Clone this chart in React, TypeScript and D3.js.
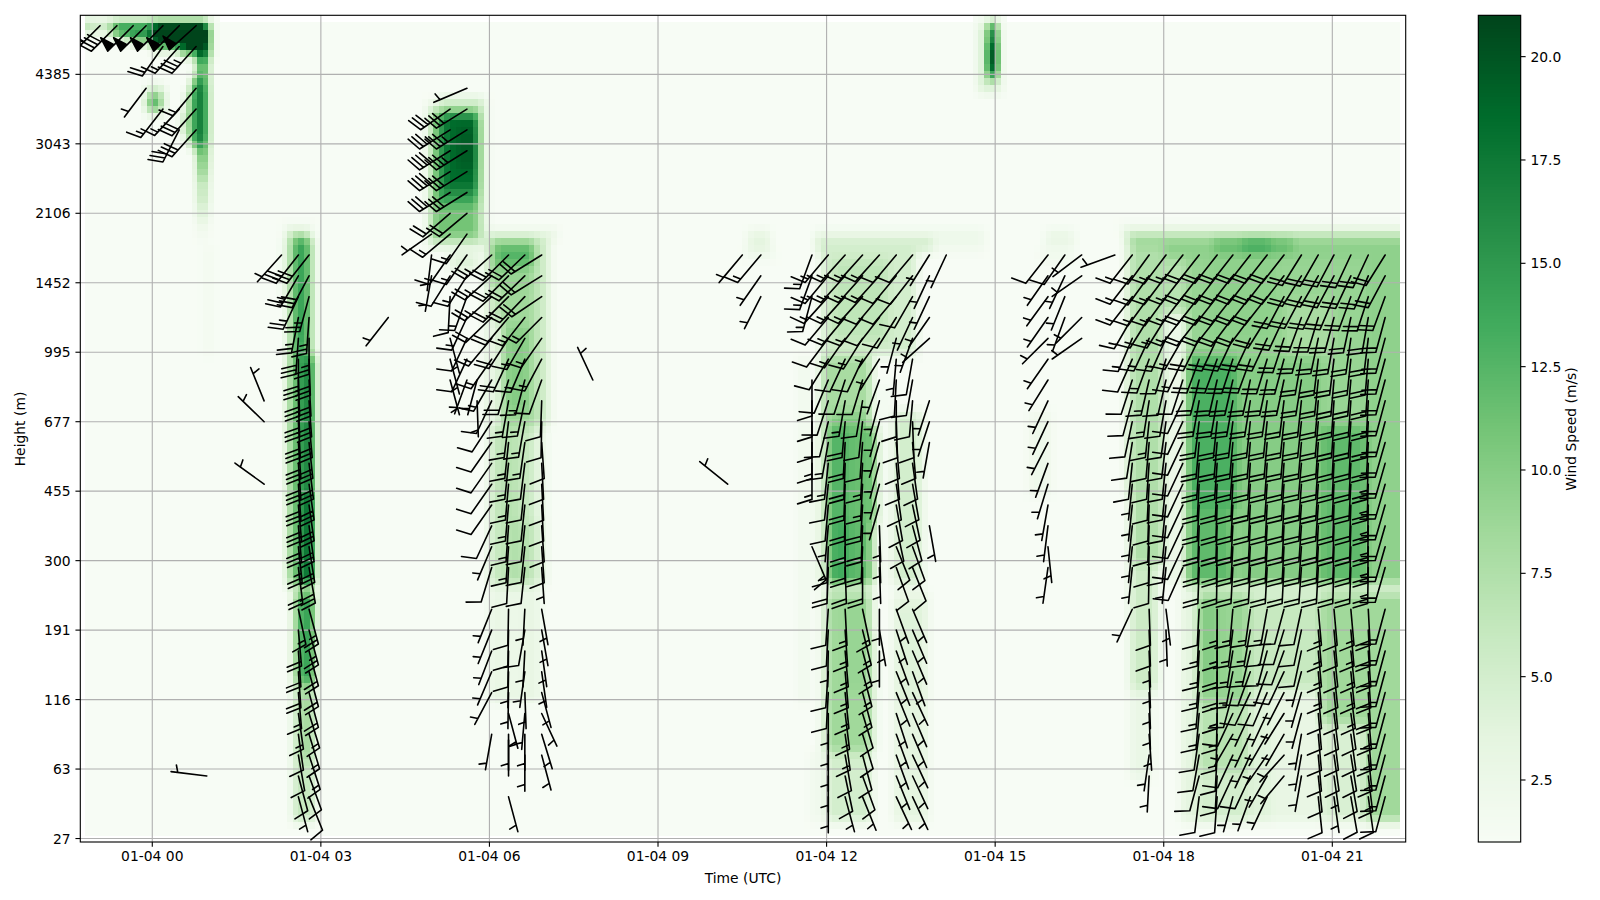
import React from "react";
import * as d3 from "d3";

// ---- axes ----
const timeTickHours = [0, 3, 6, 9, 12, 15, 18, 21];
const timeTickLabels = ["01-04 00", "01-04 03", "01-04 06", "01-04 09", "01-04 12", "01-04 15", "01-04 18", "01-04 21"];
const gateTicks = [0, 10, 20, 30, 40, 50, 60, 70, 80, 90, 100, 110];
const heightLabels = ["27", "63", "116", "191", "300", "455", "677", "995", "1452", "2106", "3043", "4385"];
const speedTicks = [2.5, 5, 7.5, 10, 12.5, 15, 17.5, 20];
const greens = ["#f7fcf5", "#e5f5e0", "#c7e9c0", "#a1d99b", "#74c476", "#41ab5d", "#238b45", "#006d2c", "#00441b"];

// ---- wind speed, m/s: [hour from, hour to, gate from, gate to, speed] ----
type P = [number, number, number, number, number];
const heatTopLeft: P[] = [
  [-1.2, -1.1, 116.5, 117.5, 12], [-1.1, -0.8, 116.5, 117.5, 9], [-0.8, -0.7, 116.5, 117.5, 11],
  [-0.7, 0, 116.5, 117.5, 19], [-0.7, 0, 115.5, 116.5, 14], [-0.4, 0, 114.5, 115.5, 12],
  [0, 1.05, 114.5, 117.5, 27], [0, 0.5, 113.5, 114.5, 10], [0.5, 1.05, 113.5, 114.5, 25], [0.5, 0.8, 112.5, 113.5, 7],
  [0.8, 1.05, 112.5, 113.5, 23], [0.6, 0.8, 111.5, 112.5, 3], [0.8, 1.05, 110, 112.5, 15], [1.05, 1.15, 112.5, 117.5, 4],
  [0.7, 1, 100, 110, 15], [0.8, 1.05, 101, 109, 17.5], [0.6, 0.7, 101, 108, 8], [0.5, 0.6, 102, 105, 5],
  [0.8, 1.05, 97.7, 100, 13], [0.8, 1.05, 95.8, 97.7, 11], [0.8, 1.05, 94.3, 95.8, 9], [0.8, 1.05, 91.9, 94.3, 7],
  [0.8, 1.05, 90, 91.9, 5], [0.8, 1.05, 88.6, 90, 3.5], [0.8, 1.05, 86.6, 88.6, 2], [0.9, 1.1, 70, 86, 1.6],
  [-0.1, 0.2, 104.5, 108.5, 5], [-0.1, 0.2, 105, 108, 9], [-0.05, 0.15, 105.5, 107, 16],
];
const heatJet3h: P[] = [
  [2.27, 2.95, 87.6, 88.6, 2], [2.45, 2.81, 86.6, 87.6, 7],
  [2.27, 2.36, 78, 86.6, 3], [2.36, 2.49, 70, 86.6, 7], [2.49, 2.81, 70, 86.6, 13], [2.58, 2.72, 72, 86.6, 15], [2.81, 2.95, 50, 86.6, 6],
  [2.45, 2.6, 36.8, 70, 10], [2.6, 2.85, 36.8, 70, 16], [2.85, 2.95, 50, 70, 8], [2.85, 2.95, 36.8, 50, 12], [2.7, 2.85, 37, 50, 18],
  [2.45, 2.9, 35.5, 36.8, 3], [2.54, 2.95, 23, 35.5, 9], [2.63, 2.85, 22, 35.5, 14], [2.54, 2.95, 2.7, 23, 6], [2.63, 2.85, 12, 23, 8],
];
const heatJet5h: P[] = [
  [4.9, 6, 84.7, 106.5, 2], [4.95, 5.95, 86, 105.6, 6], [5.05, 5.85, 87, 105, 11], [5.1, 5.85, 92, 104.6, 15],
  [5.2, 5.85, 94, 104.6, 18.5], [5.4, 5.85, 97, 103, 19.5], [5.1, 5.95, 105.6, 106.6, 7], [5.3, 5.85, 82, 85, 4],
];
const heatBlock6h: P[] = [
  [5.9, 7.15, 86.6, 87.6, 4], [5.95, 7.1, 60, 86.6, 3.5], [6, 6.99, 60, 86.6, 6], [6.05, 6.85, 80, 86.6, 9], [6.1, 6.8, 83, 85.8, 12.5],
  [6.24, 6.84, 60, 80, 8.5], [6.3, 6.75, 62, 74, 10], [6, 6.24, 60, 75, 3],
  [6, 6.84, 46, 60, 6], [6.2, 6.5, 46, 60, 7], [6.84, 7, 46, 60, 3], [6.04, 6.3, 37, 46, 6], [6.3, 6.5, 37, 46, 7.5], [6.5, 6.85, 37, 46, 7], [6.85, 7, 37, 46, 4],
  [6, 6.9, 35.5, 36.8, 2.5], [6, 6.9, 20, 35.5, 3], [6.2, 6.6, 22, 35, 2.5],
];
const heatBlock12h: P[] = [
  [11.5, 11.7, 20, 70, 2], [11.8, 14.8, 86.6, 87.6, 3], [13.9, 14.8, 84.5, 86.6, 2], [11.8, 13.9, 84.5, 86.6, 5],
  [11.9, 13.6, 70, 84.5, 5], [12.1, 13.1, 72, 84, 6.5], [11.9, 12.8, 60, 70, 8], [12.1, 12.7, 50, 62, 10],
  [12.77, 13.18, 36.8, 66, 1.5], [13.18, 13.7, 36.8, 62, 5], [11.8, 12.03, 37, 60, 3.5], [12.03, 12.9, 46, 60, 10.5], [12.03, 12.4, 46, 60, 12.5], [12.4, 12.77, 46, 60, 11.5],
  [12.03, 12.77, 36.8, 46, 12], [12.1, 12.4, 37, 46, 13.5], [12.77, 12.9, 37, 46, 4], [12.03, 12.77, 35.5, 36.8, 2],
  [11.9, 12.03, 12.3, 35.5, 4], [12.03, 12.77, 12.3, 35.5, 8.5], [12.3, 12.7, 22, 35, 9], [12.77, 12.95, 12.3, 30, 3],
  [12.03, 12.77, 2.7, 12.3, 5], [11.75, 12.03, 2.7, 12.3, 2], [13.18, 13.8, 2.7, 35.5, 3.5], [13.25, 13.7, 20, 34, 4],
];
const heatSpike15h: P[] = [
  [14.75, 15.1, 107.5, 108, 2], [14.75, 15.1, 108, 117.5, 5], [14.9, 15, 110, 117.5, 26], [14.9, 15, 111, 115, 34],
];
const heatPatches16h: P[] = [
  [10.6, 11, 84, 87.6, 3.5], [10.5, 11.1, 84, 85, 2], [15.9, 16.4, 86, 87.6, 3], [15.8, 16.4, 83, 86, 1.8], [15.6, 16.05, 50, 62, 2.2],
];
const heatBlock18h: P[] = [
  [17.2, 22.2, 87.6, 88.6, 2], [17.3, 22.2, 86.6, 87.6, 6.5], [17.45, 22.2, 84, 86.6, 9.5], [18.9, 20.3, 85, 86.6, 12], [19.4, 19.9, 85, 86.6, 14],
  [17.3, 17.45, 50, 86.6, 3.5], [17.45, 18, 40, 86, 7.5], [18, 18.4, 75.7, 84, 7], [18, 18.4, 36.8, 75.7, 2.5],
  [18.4, 22.2, 36.8, 84, 9], [18.8, 20, 72, 84, 9.5], [20.2, 21, 70, 78, 8],
  [18.4, 19.3, 48, 70, 13], [18.4, 19.2, 37, 48, 12], [19.3, 20.8, 37, 70, 10], [20.8, 21.6, 37, 60, 12], [21.6, 22.2, 37, 84, 9.5],
  [18.4, 22.2, 35.5, 36.8, 2], [18.3, 18.6, 2.7, 35.5, 3.5], [18.6, 19.48, 20, 35.5, 9], [18.6, 19, 22, 35, 10],
  [19.48, 20.78, 22, 35.5, 6], [19.9, 20.78, 2.7, 22, 3], [18.6, 19.48, 10, 20, 7], [18.6, 19.48, 2.7, 10, 5], [19.48, 19.9, 2.7, 22, 4],
  [20.78, 21.6, 17, 35.5, 8.5], [20.78, 21.6, 2.7, 17, 4.5], [21.6, 22.2, 2.7, 35.5, 8.5],
  [17.45, 17.95, 22, 40, 5.5], [17.45, 17.85, 9, 22, 2.8],
];
const heatBackground = 1.0;
const gridStartHour = -1.2;
const gridColumns = 234;
const gridRows = 118;

// ---- wind barbs: [hour, top row, knots/5 per row going down (a = 50 kt, . = none), bearing per row] ----
type B = [number, number, string, number[]];
const barbsTopLeft: B[] = [
  [-0.93, 39, "7", [225]], [-0.63, 39, "8", [225]], [-0.34, 39, "a", [225]],
  [-0.11, 39, "a..1", [225, 0, 0, 217]],
  [0.19, 39, "a4..3", [225, 215, 0, 0, 218]],
  [0.48, 39, "a3..36", [225, 222, 0, 0, 223, 207]],
  [0.78, 39, "a7.366", [228, 222, 0, 220, 222, 222]],
];
const barbsIsolated: B[] = [
  [0.97, 3, "1", [277]], [1.99, 21, "11..1", [338, 314, 0, 0, 306]], [4.2, 25, "1", [218]], [7.84, 22, "1", [335]],
  [10.24, 17, "1", [309]], [10.5, 28, "1", [220]], [10.83, 28, "311", [220, 215, 207]],
];
const barbsJet3h: B[] = [
  [2.3, 28, "1", [222]],
  [2.6, 28, "6555666666666654.3444332221", [218, 210, 205, 191, 184, 180, 178, 178, 177, 176, 176, 176, 175, 175, 174, 173, 0, 168, 175, 176, 176, 175, 172, 172, 170, 165, 165]],
  [2.79, 28, "6655566666666666.5544433322", [218, 208, 195, 184, 180, 178, 177, 176, 175, 174, 173, 172, 172, 172, 171, 170, 0, 165, 165, 165, 165, 165, 163, 163, 162, 160, 158]],
];
const barbsMorning: B[] = [
  [4.97, 29, "111", [235, 187, 190]],
  [5.3, 35, "6788643322.111", [235, 238, 238, 238, 238, 229, 230, 215, 212, 183, 0, 165, 165, 165]],
  [5.6, 36, "167766433333221", [247, 238, 238, 238, 238, 238, 230, 215, 215, 212, 200, 205, 205, 205, 200]],
  [5.78, 22, "11", [195, 178]],
  [6.04, 28, "5554333222222212.11111.1", [228, 228, 228, 226, 220, 215, 210, 205, 213, 215, 215, 215, 215, 205, 203, 197, 0, 202, 202, 201, 203, 208, 0, 190]],
  [6.34, 28, "4444444333333332.2221111011", [225, 225, 225, 220, 213, 205, 197, 190, 187, 186, 186, 185, 185, 184, 184, 183, 0, 181, 181, 181, 181, 181, 165, 180, 180, 0, 165]],
  [6.63, 28, "4443333333222222.12111111", [226, 226, 224, 218, 210, 203, 195, 192, 190, 188, 187, 186, 186, 186, 186, 186, 0, 183, 190, 183, 188, 178, 185, 180, 180]],
  [6.93, 28, "4443332222222221.11111111", [238, 238, 236, 225, 215, 208, 200, 182, 181, 176, 177, 177, 177, 176, 176, 176, 0, 170, 170, 172, 172, 165, 155, 163, 165]],
];
const barbsMidday: B[] = [
  [11.74, 28, "333...22233...3", [200, 200, 195, 0, 0, 0, 180, 180, 180, 180, 180, 0, 0, 0, 157]],
  [12.03, 28, "3332222223322134.2212211111", [220, 220, 222, 220, 217, 212, 203, 198, 194, 190, 186, 186, 185, 185, 182, 182, 0, 184, 183, 181, 184, 183, 180, 180, 180, 180, 180]],
  [12.33, 28, "3333322344444444.3333333221", [222, 222, 222, 220, 215, 205, 198, 190, 185, 183, 182, 182, 181, 180, 180, 178, 0, 177, 176, 175, 175, 174, 173, 172, 170, 168, 165]],
  [12.64, 28, "3333322222334444.3333322221", [222, 222, 222, 218, 212, 205, 197, 190, 186, 184, 183, 183, 183, 182, 182, 180, 0, 168, 166, 165, 165, 165, 163, 163, 165, 160, 158]],
  [12.94, 28, "3322111111111111.111", [222, 222, 220, 218, 215, 212, 200, 195, 195, 196, 195, 195, 196, 178, 178, 178, 0, 180, 170, 180]],
  [13.24, 28, "2222112222222222.1111111111", [220, 220, 220, 212, 195, 185, 183, 180, 178, 175, 175, 172, 170, 168, 158, 160, 0, 160, 162, 160, 158, 158, 162, 160, 160, 158, 155]],
  [13.53, 28, "2221122222222222.1111111111", [220, 218, 210, 205, 200, 190, 190, 185, 178, 175, 172, 170, 168, 165, 160, 158, 0, 157, 157, 157, 160, 155, 157, 157, 155, 155, 155]],
  [13.83, 28, "11111..111...1", [212, 205, 205, 215, 228, 0, 0, 198, 198, 190, 0, 0, 0, 170]],
  [14.13, 28, "1", [205]],
];
const barbsAfternoon: B[] = [
  [15.94, 28, "2111111111111111", [218, 215, 216, 215, 225, 215, 212, 205, 205, 207, 200, 197, 190, 187, 174, 188]],
  [16.24, 28, "2111", [215, 205, 202, 200]],
  [16.54, 28, "11.11", [233, 235, 0, 225, 235]],
  [17.13, 28, "1", [250]],
];
const barbsEvening: B[] = [
  [17.44, 28, "3333322222211111.1", [218, 218, 218, 210, 203, 204, 198, 195, 192, 189, 186, 186, 186, 186, 186, 186, 0, 205]],
  [17.74, 28, "3333333332222222.221111111", [216, 216, 216, 212, 205, 200, 193, 189, 186, 185, 184, 183, 182, 182, 181, 181, 0, 178, 178, 178, 178, 178, 178, 176, 188, 183]],
  [18.04, 28, "3333322222222221.11", [217, 217, 216, 212, 204, 197, 193, 190, 188, 187, 186, 186, 186, 186, 186, 186, 0, 173, 178]],
  [18.34, 28, "3333332222222222", [218, 218, 218, 218, 210, 205, 198, 205, 205, 205, 205, 205, 205, 205, 205, 204]],
  [18.63, 28, "4444444444444444.2333332222", [218, 218, 218, 218, 206, 200, 194, 190, 187, 185, 184, 183, 183, 182, 182, 182, 0, 183, 183, 183, 184, 185, 185, 188, 190, 195, 187]],
  [18.95, 28, "4444444444444444.3344333222", [218, 218, 218, 218, 205, 200, 193, 190, 186, 185, 184, 183, 182, 182, 181, 181, 0, 180, 180, 180, 180, 180, 181, 182, 183, 183, 184]],
  [19.23, 28, "4444444444444444.3333221221", [218, 218, 218, 217, 205, 198, 193, 190, 187, 185, 184, 183, 183, 183, 183, 183, 0, 185, 187, 189, 191, 195, 205, 210, 205, 205, 195]],
  [19.54, 28, "4444444444444444.3332211121", [218, 218, 218, 217, 205, 200, 192, 189, 186, 185, 184, 184, 183, 183, 183, 183, 0, 188, 190, 193, 200, 205, 205, 205, 205, 205, 200]],
  [19.84, 28, "4444444444444444.3222211111", [218, 218, 218, 212, 205, 197, 192, 188, 186, 185, 184, 184, 183, 183, 183, 183, 0, 190, 192, 195, 200, 203, 205, 210, 215, 210, 205]],
  [20.14, 28, "4444444444444444.222211111", [218, 218, 208, 205, 198, 195, 192, 187, 186, 185, 184, 184, 183, 183, 183, 183, 0, 195, 197, 200, 205, 207, 212, 210, 222, 220]],
  [20.45, 28, "4444444444444444.222111111", [212, 212, 208, 200, 195, 190, 189, 186, 186, 185, 185, 184, 184, 184, 184, 184, 0, 192, 192, 192, 195, 196, 195, 190, 190, 190]],
  [20.75, 28, "4444444444444444.3333222222", [210, 210, 205, 197, 192, 187, 186, 185, 185, 184, 184, 184, 184, 183, 183, 183, 0, 175, 175, 175, 175, 175, 175, 175, 175, 174, 174]],
  [21.03, 28, "4444444444444444.2222222211", [208, 208, 203, 195, 190, 187, 185, 184, 184, 183, 183, 183, 182, 182, 182, 182, 0, 175, 175, 174, 174, 174, 173, 173, 172, 172, 172]],
  [21.33, 28, "4444444444444444.3333322222", [205, 205, 200, 192, 188, 186, 185, 184, 184, 183, 183, 183, 182, 182, 182, 182, 0, 175, 175, 174, 174, 173, 172, 172, 171, 170, 170]],
  [21.64, 28, "4444444444555555.4444433332", [205, 203, 198, 190, 187, 185, 184, 183, 183, 183, 182, 182, 181, 181, 181, 181, 0, 177, 177, 176, 176, 176, 175, 175, 174, 173, 172]],
  [21.94, 28, "4444444444444444.3333333332", [212, 208, 200, 195, 195, 195, 195, 195, 195, 196, 196, 196, 196, 196, 196, 196, 0, 195, 195, 195, 195, 195, 195, 195, 195, 195, 195]],
];

const FRAME = { left: 80.3, right: 1405.7, top: 15.3, bottom: 842 };
const CBAR = { left: 1478.3, right: 1520.7 };
const FONT = "'DejaVu Sans', sans-serif";
const L = 36;
const spacing = L * 0.125, barbH = L * 0.4, barbW = L * 0.25;

const x = d3.scaleLinear().domain([-1.281, 22.306]).range([FRAME.left, FRAME.right]);
const y = d3.scaleLinear().domain([-0.5, 118.5]).range([FRAME.bottom, FRAME.top]);
const speed = d3.scaleLinear<string>().domain(d3.range(9).map((i) => 1 + i * 2.5)).range(greens).clamp(true);
const cbarY = d3.scaleLinear().domain([1, 21]).range([FRAME.bottom, FRAME.top]);

function barbPath(tx: number, ty: number, knots: number, bearing: number): string {
  const b = (bearing * Math.PI) / 180;
  const d = [Math.sin(b), -Math.cos(b)];
  const n = [Math.cos(b), Math.sin(b)];
  const at = (along: number, side: number): [number, number] => [tx + d[0] * along + n[0] * side, ty + d[1] * along + n[1] * side];
  const pts: [number, number][] = [[tx, ty]];
  const flags = Math.floor(knots / 50);
  const full = Math.floor((knots - flags * 50) / 10);
  const half = knots - flags * 50 - full * 10 >= 5 ? 1 : 0;
  let off = L;
  for (let i = 0; i < flags; i++) {
    if (off !== L) off -= spacing / 2;
    pts.push(at(off, 0), at(off - barbW / 2, barbH), at(off - barbW, 0));
    off -= barbW + spacing;
  }
  for (let i = 0; i < full; i++) {
    pts.push(at(off, 0), at(off + barbW / 2, barbH), at(off, 0));
    off -= spacing;
  }
  if (half) {
    if (off === L) {
      pts.push(at(L, 0));
      off -= 1.5 * spacing;
    }
    pts.push(at(off, 0), at(off + barbW / 4, barbH / 2), at(off, 0));
  }
  return d3.line()(pts) + "Z";
}

const allPatches = [...heatTopLeft, ...heatJet3h, ...heatJet5h, ...heatBlock6h, ...heatBlock12h, ...heatSpike15h, ...heatPatches16h, ...heatBlock18h];
const allBarbs = [...barbsTopLeft, ...barbsIsolated, ...barbsJet3h, ...barbsMorning, ...barbsMidday, ...barbsAfternoon, ...barbsEvening];

// The patches are laid on the instrument's grid and softened by one cell, as the reference's cells are.
function buildCells() {
  const grid: number[][] = [];
  for (let r = 0; r < gridRows; r++) {
    const row = new Array(gridColumns).fill(heatBackground);
    grid.push(row);
  }
  allPatches.forEach(([t0, t1, g0, g1, v]) => {
    for (let r = 0; r < gridRows; r++) {
      const gc = r + 1;
      if (gc < g0 || gc >= g1) continue;
      for (let c = 0; c < gridColumns; c++) {
        const tc = gridStartHour + (c + 0.5) * 0.1;
        if (tc >= t0 && tc < t1) grid[r][c] = v;
      }
    }
  });
  const kernel = [[-1, 1], [0, 2], [1, 1]];
  const cells: { c: number; r: number; v: number }[] = [];
  for (let r = 0; r < gridRows; r++) {
    for (let c = 0; c < gridColumns; c++) {
      let sum = 0, wt = 0;
      kernel.forEach(([dr, wr]) => kernel.forEach(([dc, wc]) => {
        const rr = Math.min(gridRows - 1, Math.max(0, r + dr));
        const cc = Math.min(gridColumns - 1, Math.max(0, c + dc));
        sum += grid[rr][cc] * wr * wc;
        wt += wr * wc;
      }));
      const v = sum / wt;
      if (v > heatBackground + 0.02) cells.push({ c, r, v });
    }
  }
  return cells;
}

export default function App() {
  const txt = { fontFamily: FONT, fontSize: 13.89, fill: "#000" } as const;
  const paths: string[] = [];
  allBarbs.forEach(([h, top, codes, dirs]) => {
    codes.split("").forEach((c, i) => {
      if (c === "." || c === "0") return;
      paths.push(barbPath(x(h), y((top - i) * 3), parseInt(c, 16) * 5, dirs[i] ?? 180));
    });
  });
  const cells = buildCells();
  const cw = x(0.1) - x(0);
  const cbarSteps = d3.range(0, 256);
  return (
    <svg width={1600} height={900} style={{ position: "absolute", left: 0, top: 0, display: "block", background: "#fff" }}>
      <defs>
        <clipPath id="plot"><rect x={FRAME.left} y={FRAME.top} width={FRAME.right - FRAME.left} height={FRAME.bottom - FRAME.top} /></clipPath>
      </defs>
      <g shapeRendering="crispEdges">
        <rect x={x(gridStartHour)} width={gridColumns * cw} y={y(117.5)} height={y(0.36) - y(117.5)} fill={speed(heatBackground)} />
        {cells.map(({ c, r, v }) => (
          <rect key={r * 1000 + c} x={x(gridStartHour + c * 0.1)} width={cw + 0.4} y={y(r + 1.5)} height={y(r + 0.5) - y(r + 1.5) + 0.4} fill={speed(v)} />
        ))}
      </g>
      <g stroke="#b0b0b0" strokeWidth={1.11}>
        {timeTickHours.map((h) => <line key={h} x1={x(h)} x2={x(h)} y1={FRAME.top} y2={FRAME.bottom} />)}
        {gateTicks.map((g) => <line key={g} x1={FRAME.left} x2={FRAME.right} y1={y(g)} y2={y(g)} />)}
      </g>
      <g clipPath="url(#plot)" fill="#000" stroke="#000" strokeWidth={1.6} strokeLinejoin="round">
        {paths.map((d, i) => <path key={i} d={d} />)}
      </g>
      <rect x={FRAME.left} y={FRAME.top} width={FRAME.right - FRAME.left} height={FRAME.bottom - FRAME.top} fill="none" stroke="#000" strokeWidth={1.11} />
      <g stroke="#000" strokeWidth={1.11}>
        {timeTickHours.map((h) => <line key={h} x1={x(h)} x2={x(h)} y1={FRAME.bottom} y2={FRAME.bottom + 4.86} />)}
        {gateTicks.map((g) => <line key={g} x1={FRAME.left - 4.86} x2={FRAME.left} y1={y(g)} y2={y(g)} />)}
      </g>
      {timeTickHours.map((h, i) => <text key={h} x={x(h)} y={FRAME.bottom + 19} textAnchor="middle" {...txt}>{timeTickLabels[i]}</text>)}
      {gateTicks.map((g, i) => <text key={g} x={FRAME.left - 9.7} y={y(g)} dy="0.36em" textAnchor="end" {...txt}>{heightLabels[i]}</text>)}
      <text x={743} y={883} textAnchor="middle" {...txt}>Time (UTC)</text>
      <text transform="translate(25,429) rotate(-90)" textAnchor="middle" {...txt}>Height (m)</text>

      <g shapeRendering="crispEdges">
        {cbarSteps.map((i) => {
          const v0 = 1 + (i / 256) * 20, v1 = 1 + ((i + 1) / 256) * 20;
          return <rect key={i} x={CBAR.left} width={CBAR.right - CBAR.left} y={cbarY(v1)} height={cbarY(v0) - cbarY(v1) + 0.5} fill={speed((v0 + v1) / 2)} />;
        })}
      </g>
      <rect x={CBAR.left} y={FRAME.top} width={CBAR.right - CBAR.left} height={FRAME.bottom - FRAME.top} fill="none" stroke="#000" strokeWidth={1.11} />
      {speedTicks.map((v) => (
        <g key={v}>
          <line x1={CBAR.right} x2={CBAR.right + 4.86} y1={cbarY(v)} y2={cbarY(v)} stroke="#000" strokeWidth={1.11} />
          <text x={CBAR.right + 9.7} y={cbarY(v)} dy="0.36em" {...txt}>{v.toFixed(1)}</text>
        </g>
      ))}
      <text transform="translate(1576,429) rotate(-90)" textAnchor="middle" {...txt}>Wind Speed (m/s)</text>
    </svg>
  );
}
